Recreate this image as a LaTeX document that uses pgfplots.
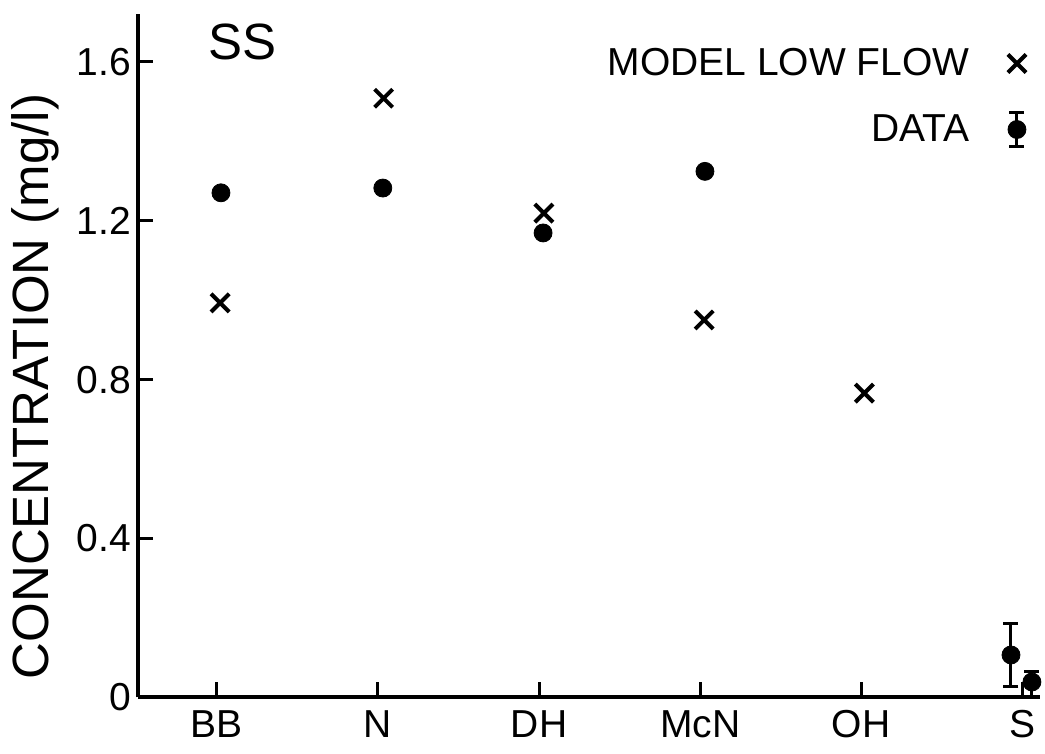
\documentclass[border=0pt]{standalone}
\usepackage{fontspec}
\setmainfont{Liberation Sans}
\usepackage{pgfplots}
\pgfplotsset{compat=1.18}
\begin{document}
\begin{tikzpicture}
\useasboundingbox (-69pt,-28.25pt) rectangle (453.5pt,348.75pt);
\begin{axis}[
  scale only axis, width=451pt, height=341.75pt,
  xmin=-0.49, xmax=5.11, ymin=0, ymax=1.72,
  axis lines*=left,
  axis line style={line width=2pt},
  xtick={0,1,2,3,4,5},
  xticklabels={BB,N,DH,McN,OH,S},
  ytick={0,0.4,0.8,1.2,1.6},
  tick align=inside,
  major tick length=7.5pt,
  every tick/.style={black, line width=1.5pt},
  /pgf/number format/assume math mode=true,
  ticklabel style={font=\fontsize{19.5}{22}\selectfont},
  xticklabel style={yshift=-3pt},
  ylabel={CONCENTRATION (mg/l)},
  ylabel style={at={(axis description cs:-0.114,0.455)}, anchor=center, font=\fontsize{25.5}{28}\selectfont},
  legend style={draw=none, fill=none, at={(axis description cs:0.992,0.962)}, anchor=north east,
    font=\fontsize{19.5}{22}\selectfont, row sep=14pt, column sep=17pt, legend cell align=right},
  legend plot pos=right,
  clip=false,
]
\addplot[only marks, mark=x, mark size=6.4pt, mark options={line width=2pt, black}]
  coordinates {(0.02,0.993) (1.035,1.508) (2.03,1.219) (3.025,0.950) (4.02,0.766)};
\addlegendentry{MODEL LOW FLOW}
\addplot[only marks, mark=*, mark size=4.5pt, black,
  error bars/.cd, y dir=both, y explicit,
  error bar style={line width=1.5pt, black},
  error mark options={line width=1.5pt, mark size=3.75pt, black, rotate=90},
  /pgfplots/legend image code/.code={
    \draw[line width=1.5pt] (0.3cm,-8.5pt) -- (0.3cm,8.5pt);
    \draw[line width=1.5pt] (0.3cm-3.75pt,-8.5pt) -- (0.3cm+3.75pt,-8.5pt);
    \draw[line width=1.5pt] (0.3cm-3.75pt,8.5pt) -- (0.3cm+3.75pt,8.5pt);
    \fill[black] (0.3cm,0) circle (4.5pt);
  }]
  coordinates {
    (0.025,1.270) +- (0,0)
    (1.03,1.282) +- (0,0)
    (2.025,1.169) +- (0,0)
    (3.03,1.324) +- (0,0)
    (4.93,0.107) +- (0,0.08)
    (5.06,0.039) += (0,0.026) -= (0,0.039)
  };
\addlegendentry{DATA}
\node[anchor=base west, inner sep=0pt, font=\fontsize{25.5}{28}\selectfont] at (axis description cs:0.0776,0.933) {SS};
\end{axis}
\end{tikzpicture}
\end{document}
